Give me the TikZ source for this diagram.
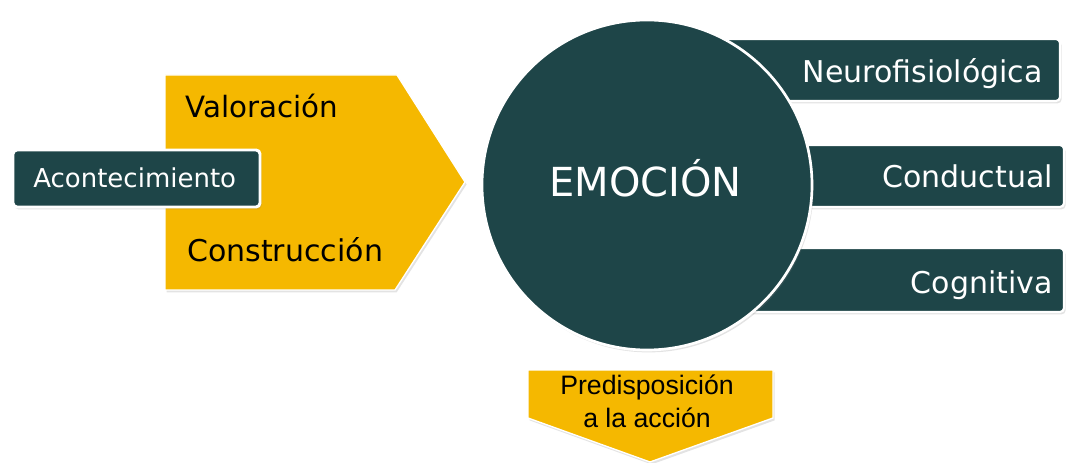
\documentclass[tikz,border=0pt]{standalone}
\usepackage{fontspec}
\setmainfont{DejaVu Sans}
\newfontfamily\arialf{Liberation Sans}
\usetikzlibrary{shadows}
\definecolor{darkbox}{RGB}{30,69,72}
\definecolor{goldfill}{RGB}{245,184,0}
\tikzset{
  shad/.style={drop shadow={opacity=0.22,shadow xshift=1.2pt,shadow yshift=-1.8pt}},
  darkshape/.style={fill=darkbox,draw=white,line width=1.6pt,shad},
  goldshape/.style={fill=goldfill,draw=white,line width=1pt,shad},
  wtext/.style={text=white,inner sep=0pt},
  btext/.style={text=black,inner sep=0pt},
}
\begin{document}
\begin{tikzpicture}[x=0.75pt,y=-0.75pt]
\useasboundingbox (0,0) rectangle (1074,463);
% right boxes (behind circle)
\draw[darkshape,rounded corners=3pt] (700,39) rectangle (1060,101);
\draw[darkshape,rounded corners=3pt] (700,145) rectangle (1064,207);
\draw[darkshape,rounded corners=3pt] (700,248) rectangle (1064,312);
% circle
\draw[darkshape,line width=2pt] (647,185) circle [radius=123.75pt];
% yellow pentagon
\draw[goldshape] (165,75) -- (397,75) -- (465,182) -- (395,290) -- (165,290) -- cycle;
% Acontecimiento box
\draw[darkshape,line width=2.2pt,rounded corners=3pt] (13,150) rectangle (260,207);
% bottom arrow
\draw[goldshape] (528,370) -- (773,370) -- (773,418) -- (650,462) -- (528,418) -- cycle;
% texts
\node[btext,anchor=base west,font=\fontsize{22pt}{26pt}\selectfont] (val) at (185,118) {Valoración};
\node[btext,anchor=base west,font=\fontsize{22.5pt}{26pt}\selectfont] (con) at (187,262) {Construcción};
\node[wtext,anchor=base west,font=\fontsize{19.5pt}{23pt}\selectfont] (aco) at (33,188) {Acontecimiento};
\node[wtext,anchor=base west,font=\fontsize{30pt}{34pt}\selectfont] (emo) at (549,197) {EMOCIÓN};
\node[wtext,anchor=base east,font=\fontsize{22.5pt}{26pt}\selectfont] (neu) at (1043,83) {Neurofisiológica};
\node[wtext,anchor=base east,font=\fontsize{22.5pt}{26pt}\selectfont] (cond) at (1053,188) {Conductual};
\node[wtext,anchor=base east,font=\fontsize{22.5pt}{26pt}\selectfont] (cog) at (1053,293) {Cognitiva};
\node[btext,anchor=base,font=\arialf\fontsize{20pt}{24pt}\selectfont] (pre1) at (647,394) {Predisposición};
\node[btext,anchor=base,font=\arialf\fontsize{20pt}{24pt}\selectfont] (pre2) at (647,427) {a la acción};
\end{tikzpicture}
\end{document}
